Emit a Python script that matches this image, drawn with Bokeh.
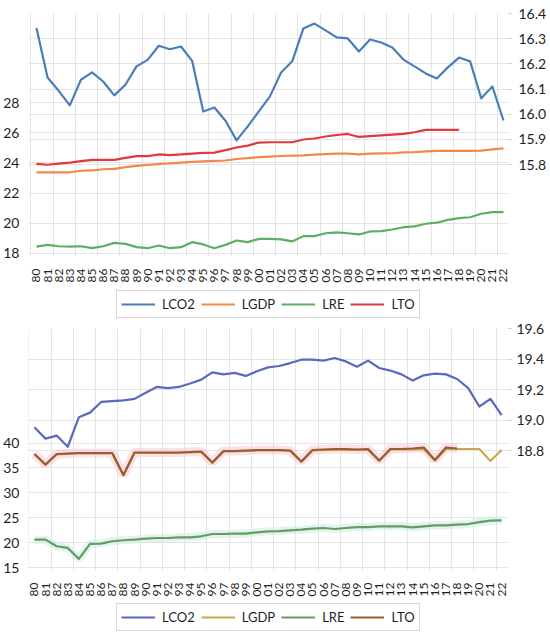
import math
from bokeh.plotting import figure
from bokeh.models import Range1d, LinearAxis, FixedTicker, Grid, Legend, LegendItem
from bokeh.layouts import column
from bokeh.embed import file_html
from bokeh.resources import INLINE

years = ["80", "81", "82", "83", "84", "85", "86", "87", "88", "89",
         "90", "91", "92", "93", "94", "95", "96", "97", "98", "99",
         "00", "01", "02", "03", "04", "05", "06", "07", "08", "09",
         "10", "11", "12", "13", "14", "15", "16", "17", "18", "19",
         "20", "21", "22"]

# ---- top panel ----
top_lco2 = [16.342, 16.146, 16.093, 16.035, 16.137, 16.166, 16.130, 16.075, 16.117, 16.190,
            16.216, 16.272, 16.258, 16.269, 16.212, 16.011, 16.027, 15.974, 15.896, 15.952,
            16.011, 16.071, 16.166, 16.210, 16.340, 16.360, 16.333, 16.305, 16.301, 16.249,
            16.297, 16.285, 16.265, 16.217, 16.190, 16.162, 16.142, 16.186, 16.225, 16.210,
            16.063, 16.110, 15.975]
top_lgdp = [23.38, 23.38, 23.38, 23.38, 23.48, 23.50, 23.58, 23.60, 23.72, 23.80,
            23.87, 23.92, 23.98, 24.02, 24.07, 24.10, 24.14, 24.16, 24.26, 24.32,
            24.38, 24.42, 24.46, 24.48, 24.50, 24.55, 24.58, 24.62, 24.62, 24.57,
            24.62, 24.63, 24.64, 24.70, 24.72, 24.76, 24.80, 24.80, 24.80, 24.80,
            24.82, 24.90, 24.97]
top_lre = [18.46, 18.57, 18.48, 18.46, 18.48, 18.35, 18.48, 18.70, 18.64, 18.42,
           18.35, 18.53, 18.35, 18.42, 18.75, 18.60, 18.35, 18.57, 18.86, 18.75,
           18.97, 18.97, 18.93, 18.80, 19.15, 19.15, 19.34, 19.40, 19.34, 19.26,
           19.46, 19.48, 19.59, 19.74, 19.80, 19.97, 20.04, 20.23, 20.34, 20.40,
           20.63, 20.74, 20.74]
top_lto = [23.94, 23.88, 23.95, 24.02, 24.12, 24.20, 24.20, 24.20, 24.33, 24.45,
           24.45, 24.56, 24.52, 24.56, 24.62, 24.66, 24.68, 24.85, 25.02, 25.15,
           25.35, 25.37, 25.37, 25.37, 25.55, 25.62, 25.75, 25.85, 25.92, 25.72,
           25.77, 25.82, 25.87, 25.93, 26.03, 26.19, 26.19, 26.19, 26.19]
top_left_ticks = [18, 20, 22, 24, 26, 28]
top_right_ticks = [15.8, 15.9, 16.0, 16.1, 16.2, 16.3, 16.4]

# ---- bottom panel ----
bot_lco2 = [18.955, 18.880, 18.900, 18.827, 19.020, 19.050, 19.120, 19.125, 19.130, 19.140,
            19.180, 19.218, 19.210, 19.218, 19.240, 19.266, 19.313, 19.300, 19.310, 19.290,
            19.320, 19.346, 19.355, 19.374, 19.396, 19.396, 19.390, 19.407, 19.385, 19.350,
            19.390, 19.342, 19.325, 19.300, 19.260, 19.294, 19.305, 19.300, 19.270, 19.210,
            19.090, 19.140, 19.033]
bot_lgdp = [37.8, 35.6, 37.7, 37.8, 37.9, 37.9, 37.9, 37.9, 33.5, 38.0,
            38.0, 38.0, 38.0, 38.0, 38.1, 38.2, 36.0, 38.3, 38.3, 38.4,
            38.5, 38.5, 38.5, 38.4, 36.2, 38.5, 38.6, 38.6, 38.6, 38.6,
            38.6, 36.4, 38.7, 38.7, 38.7, 38.8, 36.5, 38.8, 38.8, 38.8,
            38.8, 36.4, 38.6]
bot_lre = [20.60, 20.60, 19.27, 18.93, 16.73, 19.73, 19.80, 20.27, 20.47, 20.60,
           20.80, 20.93, 20.93, 21.07, 21.07, 21.27, 21.73, 21.73, 21.80, 21.80,
           22.07, 22.27, 22.30, 22.47, 22.60, 22.80, 22.93, 22.73, 22.93, 23.13,
           23.13, 23.27, 23.27, 23.27, 23.07, 23.27, 23.47, 23.47, 23.60, 23.73,
           24.13, 24.40, 24.47]
bot_lto = [37.8, 35.7, 37.8, 37.9, 38.0, 38.0, 38.0, 38.0, 33.6, 38.1,
           38.1, 38.1, 38.1, 38.1, 38.2, 38.3, 36.1, 38.4, 38.4, 38.5,
           38.6, 38.6, 38.6, 38.5, 36.3, 38.6, 38.7, 38.8, 38.8, 38.7,
           38.8, 36.5, 38.8, 38.8, 38.9, 39.1, 36.6, 39.1, 38.9]
bot_left_ticks = [15, 20, 25, 30, 35, 40]
bot_right_ticks = [18.8, 19.0, 19.2, 19.4, 19.6]

series_names = ["LCO2", "LGDP", "LRE", "LTO"]
top_colors = ["#4A7EBB", "#F0894A", "#5DAE62", "#E0383F"]
bot_colors = ["#5A69BD", "#C9A84C", "#6A9A5E", "#9A5A34"]

FONT = "Lato"
TXT = "#1f1f1f"
GRID = "#e4e4e4"
W = 550


def make_panel(height, top_border, bottom_border, right_border, right_standoff,
               xr, left_r, right_r, left_ticks, right_ticks,
               lco2, lgdp, lre, lto, colors, glow=False):
    p = figure(width=W, height=height, output_backend="svg", toolbar_location=None,
               x_range=Range1d(*xr), y_range=Range1d(*left_r),
               min_border_top=top_border, min_border_bottom=bottom_border,
               min_border_left=25, min_border_right=right_border)
    p.outline_line_color = None
    p.background_fill_color = "white"
    p.border_fill_color = "white"
    p.extra_y_ranges = {"r": Range1d(*right_r)}

    xa = p.xaxis[0]
    xa.ticker = FixedTicker(ticks=list(range(len(years))))
    xa.major_label_overrides = {i: y for i, y in enumerate(years)}
    xa.major_label_orientation = math.pi / 2
    xa.axis_line_color = None
    xa.major_tick_line_color = None
    xa.minor_tick_line_color = None
    xa.major_label_standoff = 6
    xa.major_label_text_font = FONT
    xa.major_label_text_font_size = "12px"
    xa.major_label_text_color = TXT

    ya = p.yaxis[0]
    ya.ticker = FixedTicker(ticks=left_ticks)
    ya.axis_line_color = None
    ya.major_tick_line_color = None
    ya.minor_tick_line_color = None
    ya.major_label_standoff = 3
    ya.major_label_text_font = FONT
    ya.major_label_text_font_size = "14px"
    ya.major_label_text_color = TXT

    ra = LinearAxis(y_range_name="r", ticker=FixedTicker(ticks=right_ticks))
    ra.axis_line_color = None
    ra.major_tick_line_color = "#c8c8c8"
    ra.major_tick_out = 3
    ra.major_tick_in = 0
    ra.minor_tick_line_color = None
    ra.major_label_standoff = right_standoff
    ra.major_label_text_font = FONT
    ra.major_label_text_font_size = "14px"
    ra.major_label_text_color = TXT
    ra.major_label_overrides = {t: "%.1f" % t for t in right_ticks}
    p.add_layout(ra, "right")

    p.xgrid.ticker = FixedTicker(ticks=[-0.5 + 2 * k for k in range(22)])
    p.xgrid.grid_line_color = GRID
    p.ygrid.ticker = FixedTicker(ticks=left_ticks)
    p.ygrid.grid_line_color = GRID
    p.add_layout(Grid(dimension=1, ticker=FixedTicker(ticks=right_ticks),
                      y_range_name="r", grid_line_color=GRID))

    xs = list(range(len(years)))
    if glow:
        p.line(xs, lre, line_color="#cdeee6", line_width=8, line_alpha=0.6)
        p.line(list(range(len(lto))), lto, line_color="#f7c9d6", line_width=9, line_alpha=0.55)

    p.line(xs, lco2, line_color=colors[0], line_width=2.2, y_range_name="r", line_join="round")
    p.line(xs, lgdp, line_color=colors[1], line_width=2.2, line_join="round")
    p.line(xs, lre, line_color=colors[2], line_width=2.2, line_join="round")
    p.line(list(range(len(lto))), lto, line_color=colors[3], line_width=2.2, line_join="round")
    return p


def make_legend(height, colors, loc):
    q = figure(width=W, height=height, output_backend="svg", toolbar_location=None,
               x_range=Range1d(0, 1), y_range=Range1d(0, 1),
               x_axis_location=None, y_axis_location=None,
               min_border=0, min_border_left=0, min_border_right=0,
               min_border_top=0, min_border_bottom=0)
    q.grid.visible = False
    q.outline_line_color = None
    q.border_fill_color = "white"
    q.background_fill_color = "white"
    # legend swatches only: these lines lie outside the visible range
    rs = [q.line([5, 6], [5, 6], line_color=c, line_width=2.2) for c in colors]
    items = [LegendItem(label=n, renderers=[r]) for n, r in zip(series_names, rs)]
    lg = Legend(items=items, orientation="horizontal", location=loc,
                label_text_font=FONT, label_text_font_size="13px", label_text_color=TXT,
                glyph_width=34, glyph_height=18, label_height=18, label_standoff=7,
                spacing=6, padding=4, margin=0,
                border_line_color="#d9d9d9", border_line_width=1, border_line_alpha=1.0,
                background_fill_color="white", background_fill_alpha=1.0)
    q.add_layout(lg, "center")
    return q


p1 = make_panel(290, 13, 34, 42, 7, (-0.715, 42.45), (17.8, 33.9), (15.435, 16.4),
                top_left_ticks, top_right_ticks,
                top_lco2, top_lgdp, top_lre, top_lto, top_colors)
l1 = make_legend(30, top_colors, (88, 2))
p2 = make_panel(282, 8, 32, 38, 5, (-0.53, 42.62), (14.4, 63.0), (18.018, 19.6),
                bot_left_ticks, bot_right_ticks,
                bot_lco2, bot_lgdp, bot_lre, bot_lto, bot_colors, glow=True)
l2 = make_legend(33, bot_colors, (88, 4))

layout = column(p1, l1, p2, l2, spacing=0)
open("out.html", "w").write(file_html(layout, INLINE))
